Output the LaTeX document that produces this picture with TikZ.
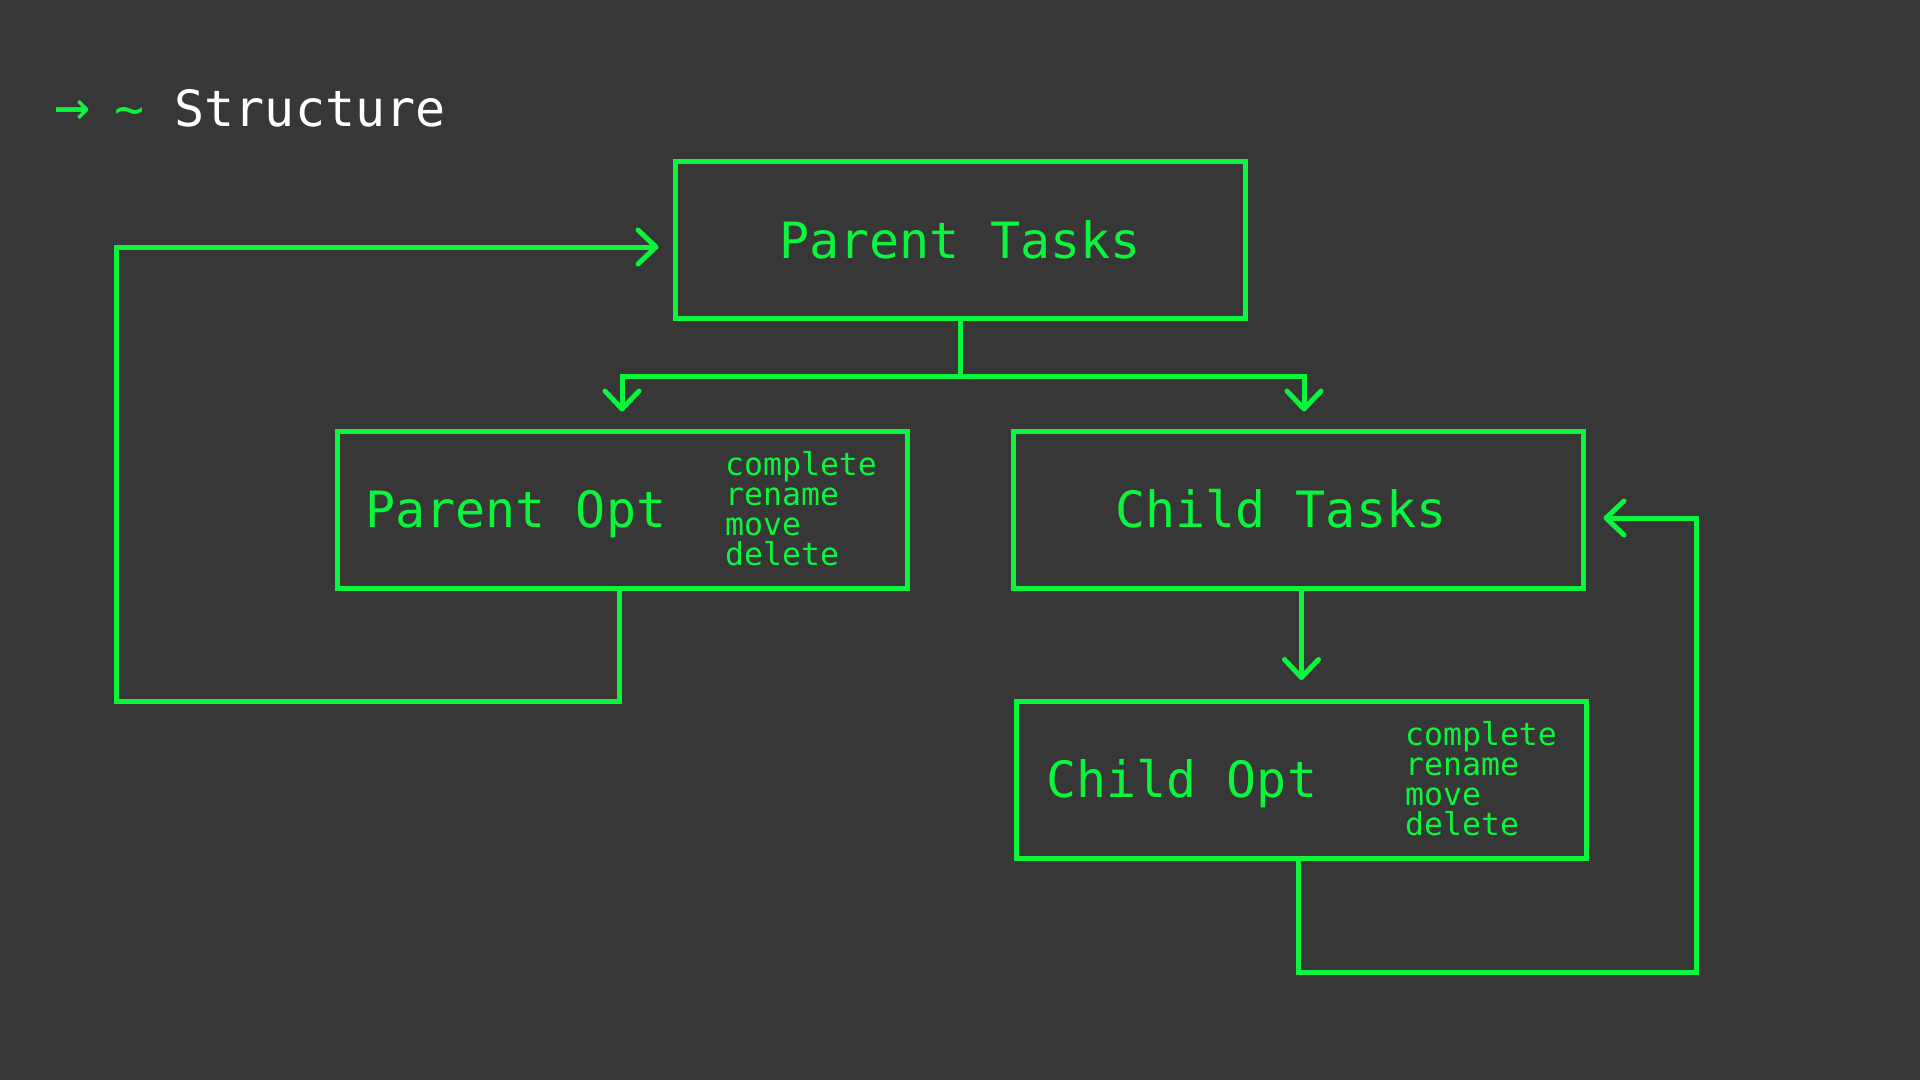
\documentclass[tikz,border=0pt]{standalone}
\usepackage{fontspec}
\usetikzlibrary{arrows.meta}
\newfontfamily\codefont{DejaVu Sans Mono}
\definecolor{bg}{RGB}{55,55,55}
\definecolor{neon}{RGB}{10,245,60}
\newcommand\optlist{\vtop{\hbox{complete}\hbox{rename}\hbox{move}\hbox{delete}}}
\begin{document}
\begin{tikzpicture}[x=1pt,y=-1pt,
  box/.style={draw=neon,line width=5pt,minimum width=570pt,minimum height=157pt,inner sep=0pt},
  big/.style={font=\codefont\fontsize{50}{58}\selectfont,text=neon,inner sep=0pt,anchor=base west},
  small/.style={font=\codefont\fontsize{31.5}{30.2}\selectfont,text=neon,inner sep=0pt,anchor=base west},
  conn/.style={draw=neon,line width=5pt},
  arr/.style={conn,-{Straight Barb[length=18pt,width=34pt,line cap=round,line join=round]}}]
\useasboundingbox (0,0) rectangle (1920,1080);
\fill[bg] (0,0) rectangle (1920,1080);
% header
\node[big,text=white] (hdr) at (54,126) {\textcolor{neon}{\rlap{\scalebox{1.2}{→}}\phantom{→} \textasciitilde} Structure};
% boxes
\node[box] (pt) at (960,240) {};
\node[box] (po) at (622,509.5) {};
\node[box] (ct) at (1298,509.5) {};
\node[box] (co) at (1301.5,780) {};
% texts
\node[big,anchor=base] (ptt) at (960,258.5) {Parent Tasks};
\node[big] (pot) at (365,527) {Parent Opt};
\node[small] (pol) at (725,475) {\optlist};
\node[big] (ctt) at (1115,527) {Child Tasks};
\node[big] (cot) at (1046,797) {Child Opt};
\node[small] (col) at (1405,745) {\optlist};
% connectors
\draw[conn] (pt.south) -- ++(0,55) coordinate (split);
\draw[arr] (split) -| ([yshift=17pt]po.north);
\draw[arr] (split) -| ([xshift=6pt,yshift=17pt]ct.north);
\draw[arr] ([xshift=-2.5pt]po.south) -- ++(0,111) -| (116,247) -- ([xshift=-14pt,yshift=-7pt]pt.west);
\draw[arr] (ct.south -| co.north) -- ([yshift=19pt]co.north);
\draw[arr] ([xshift=-3pt]co.south) -- ++(0,111) -| (1696,518) -- ([xshift=18pt,yshift=-8.5pt]ct.east);
\end{tikzpicture}
\end{document}
